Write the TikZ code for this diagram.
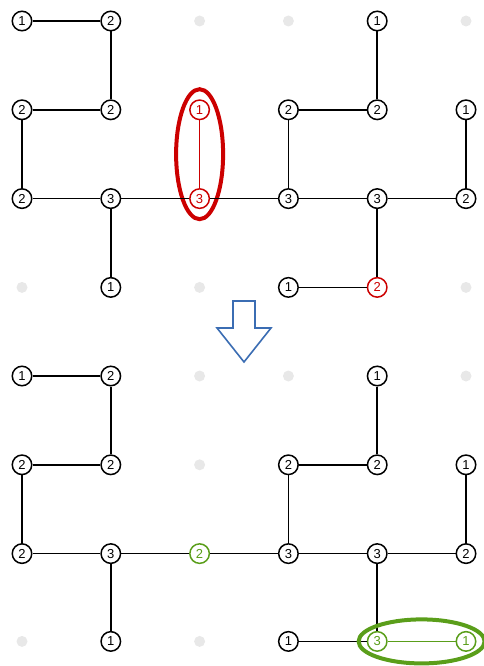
\documentclass[tikz,border=0pt]{standalone}
\usepackage{fontspec}
\setmainfont{Liberation Sans}
\begin{document}
\begin{tikzpicture}[x=1pt,y=-1pt,
  nd/.style={circle,draw=black,fill=white,line width=1.5pt,minimum size=19.5pt,inner sep=0pt,font=\fontsize{13}{12}\selectfont},
  rednd/.style={nd,draw=myred,text=myred},
  grnnd/.style={nd,draw=mygreen,text=mygreen},
  gdot/.style={circle,fill=dotgray,minimum size=11pt,inner sep=0pt},
  edge/.style={line width=1.6pt,draw=black},
  rededge/.style={line width=1.2pt,draw=myred},
  grnedge/.style={line width=1.2pt,draw=mygreen}]
\definecolor{myred}{HTML}{CC0000}
\definecolor{mygreen}{HTML}{5A9E1A}
\definecolor{myblue}{HTML}{3B6DB3}
\definecolor{dotgray}{HTML}{E8E8E8}
\useasboundingbox (0,0) rectangle (483,666);
% top grid
\def\xa{22}\def\xb{110.8}\def\xc{199.6}\def\xd{288.4}\def\xe{377.2}\def\xf{466}
\def\ya{21}\def\yb{109.8}\def\yc{198.6}\def\yd{287.4}
\draw[myred,line width=4pt] (\xc,154.2) ellipse [x radius=23.5,y radius=65];
\node[nd] (a00) at (\xa,\ya) {1};
\node[nd] (a10) at (\xb,\ya) {2};
\node[gdot] (a20) at (\xc,\ya) {};
\node[gdot] (a30) at (\xd,\ya) {};
\node[nd] (a40) at (\xe,\ya) {1};
\node[gdot] (a50) at (\xf,\ya) {};
\node[nd] (a01) at (\xa,\yb) {2};
\node[nd] (a11) at (\xb,\yb) {2};
\node[rednd] (a21) at (\xc,\yb) {1};
\node[nd] (a31) at (\xd,\yb) {2};
\node[nd] (a41) at (\xe,\yb) {2};
\node[nd] (a51) at (\xf,\yb) {1};
\node[nd] (a02) at (\xa,\yc) {2};
\node[nd] (a12) at (\xb,\yc) {3};
\node[rednd] (a22) at (\xc,\yc) {3};
\node[nd] (a32) at (\xd,\yc) {3};
\node[nd] (a42) at (\xe,\yc) {3};
\node[nd] (a52) at (\xf,\yc) {2};
\node[gdot] (a03) at (\xa,\yd) {};
\node[nd] (a13) at (\xb,\yd) {1};
\node[gdot] (a23) at (\xc,\yd) {};
\node[nd] (a33) at (\xd,\yd) {1};
\node[rednd] (a43) at (\xe,\yd) {2};
\node[gdot] (a53) at (\xf,\yd) {};
\draw[edge] (a00) -- (a10);
\draw[edge] (a10) -- (a11);
\draw[edge] (a40) -- (a41);
\draw[edge] (a01) -- (a11);
\draw[edge] (a31) -- (a41);
\draw[edge] (a01) -- (a02);
\draw[edge] (a31) -- (a32);
\draw[edge] (a51) -- (a52);
\draw[rededge] (a21) -- (a22);
\draw[edge] (a02) -- (a12);
\draw[edge] (a12) -- (a22);
\draw[edge] (a22) -- (a32);
\draw[edge] (a32) -- (a42);
\draw[edge] (a42) -- (a52);
\draw[edge] (a12) -- (a13);
\draw[edge] (a42) -- (a43);
\draw[edge] (a33) -- (a43);
% arrow
\draw[myblue,line width=1.6pt,line join=miter,fill=white]
  (233,301) -- (255,301) -- (255,328) -- (271,328) -- (244,362) -- (217,328) -- (233,328) -- cycle;
% bottom grid
\def\ya{376}\def\yb{464.8}\def\yc{553.6}\def\yd{641.4}
\node[nd] (b00) at (\xa,\ya) {1};
\node[nd] (b10) at (\xb,\ya) {2};
\node[gdot] (b20) at (\xc,\ya) {};
\node[gdot] (b30) at (\xd,\ya) {};
\node[nd] (b40) at (\xe,\ya) {1};
\node[gdot] (b50) at (\xf,\ya) {};
\node[nd] (b01) at (\xa,\yb) {2};
\node[nd] (b11) at (\xb,\yb) {2};
\node[gdot] (b21) at (\xc,\yb) {};
\node[nd] (b31) at (\xd,\yb) {2};
\node[nd] (b41) at (\xe,\yb) {2};
\node[nd] (b51) at (\xf,\yb) {1};
\node[nd] (b02) at (\xa,\yc) {2};
\node[nd] (b12) at (\xb,\yc) {3};
\node[grnnd] (b22) at (\xc,\yc) {2};
\node[nd] (b32) at (\xd,\yc) {3};
\node[nd] (b42) at (\xe,\yc) {3};
\node[nd] (b52) at (\xf,\yc) {2};
\node[gdot] (b03) at (\xa,\yd) {};
\node[nd] (b13) at (\xb,\yd) {1};
\node[gdot] (b23) at (\xc,\yd) {};
\node[nd] (b33) at (\xd,\yd) {1};
\node[grnnd] (b43) at (\xe,\yd) {3};
\node[grnnd] (b53) at (\xf,\yd) {1};
\draw[edge] (b00) -- (b10);
\draw[edge] (b10) -- (b11);
\draw[edge] (b40) -- (b41);
\draw[edge] (b01) -- (b11);
\draw[edge] (b31) -- (b41);
\draw[edge] (b01) -- (b02);
\draw[edge] (b31) -- (b32);
\draw[edge] (b51) -- (b52);
\draw[edge] (b02) -- (b12);
\draw[edge] (b12) -- (b22);
\draw[edge] (b22) -- (b32);
\draw[edge] (b32) -- (b42);
\draw[edge] (b42) -- (b52);
\draw[edge] (b12) -- (b13);
\draw[edge] (b42) -- (b43);
\draw[edge] (b33) -- (b43);
\draw[grnedge] (b43) -- (b53);
\draw[mygreen,line width=4pt] (421.6,\yd) ellipse [x radius=63,y radius=22];
\end{tikzpicture}
\end{document}
